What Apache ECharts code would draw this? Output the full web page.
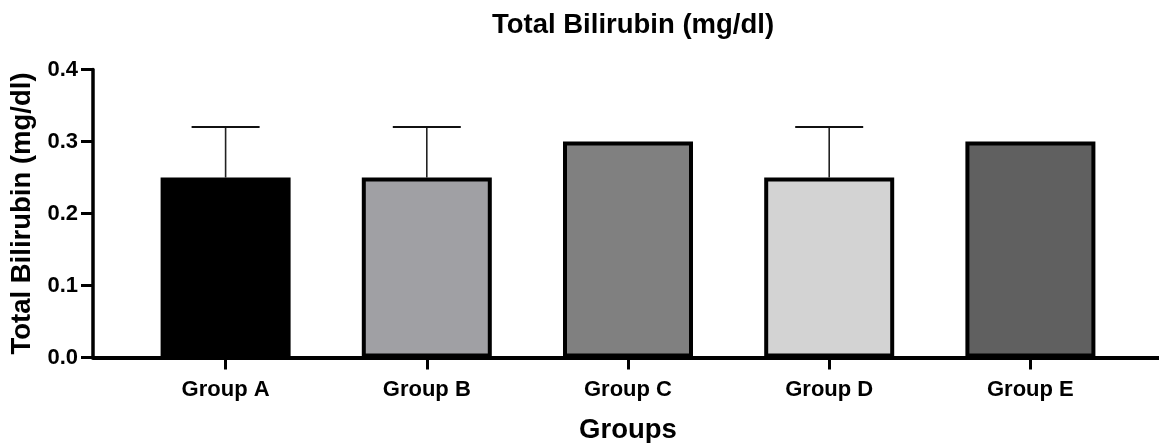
<!DOCTYPE html>
<html>
<head>
<meta charset="utf-8">
<script src="https://cdn.jsdelivr.net/npm/echarts@6/dist/echarts.min.js"></script>
<style>
  html, body { margin: 0; padding: 0; background: #fff; }
  #chart { width: 1159px; height: 443px; }
</style>
</head>
<body>
<div id="chart"></div>
<script>
const categories = ['Group A', 'Group B', 'Group C', 'Group D', 'Group E'];
const means = [0.25, 0.25, 0.30, 0.25, 0.30];
const errors = [0.07, 0.07, 0, 0.07, 0];
const barColors = ['#000000', '#a0a0a4', '#808080', '#d3d3d3', '#606060'];
const yTicks = [0, 0.1, 0.2, 0.3, 0.4];

const FONT = '"Liberation Sans", Arial, sans-serif';
const chart = echarts.init(document.getElementById('chart'), null, { renderer: 'canvas' });

const option = {
  backgroundColor: '#ffffff',
  animation: false,
  title: {
    text: 'Total Bilirubin (mg/dl)',
    left: 628,
    top: 6,
    textAlign: 'center',
    textStyle: { fontFamily: FONT, fontWeight: 'bold', fontSize: 27.5, color: '#000' }
  },
  grid: [
    { left: 93, right: 0, top: 69.5, bottom: 85.5, containLabel: false, outerBoundsMode: 'none' },
    { left: 125, right: 28, top: 69.5, bottom: 85.5, containLabel: false, outerBoundsMode: 'none' }
  ],
  xAxis: [
    {
      gridIndex: 0,
      type: 'category',
      data: [''],
      z: 5,
      axisLine: { show: true, lineStyle: { color: '#000', width: 4 } },
      axisTick: { show: false },
      axisLabel: { show: false },
      splitLine: { show: false }
    },
    {
      gridIndex: 1,
      type: 'category',
      data: categories,
      axisLine: { show: false },
      axisTick: { show: true, alignWithLabel: true, length: 12, lineStyle: { color: '#000', width: 3 } },
      axisLabel: { show: true, margin: 21, fontFamily: FONT, fontWeight: 'bold', fontSize: 22, color: '#000' },
      name: 'Groups',
      nameLocation: 'middle',
      nameGap: 59,
      nameTextStyle: { fontFamily: FONT, fontWeight: 'bold', fontSize: 27.5, color: '#000' },
      splitLine: { show: false }
    }
  ],
  yAxis: [
    {
      gridIndex: 0,
      type: 'value',
      min: yTicks[0],
      max: yTicks[yTicks.length - 1],
      interval: 0.1,
      z: 5,
      axisLine: { show: true, lineStyle: { color: '#000', width: 3.5 } },
      axisTick: { show: true, length: 12, lineStyle: { color: '#000', width: 3 } },
      axisLabel: {
        margin: 15, fontFamily: FONT, fontWeight: 'bold', fontSize: 22, color: '#000',
        formatter: v => v.toFixed(1)
      },
      splitLine: { show: false },
      name: 'Total Bilirubin (mg/dl)',
      nameLocation: 'middle',
      nameGap: 57,
      nameTextStyle: { fontFamily: FONT, fontWeight: 'bold', fontSize: 27.5, color: '#000' }
    },
    {
      gridIndex: 1,
      type: 'value',
      min: yTicks[0],
      max: yTicks[yTicks.length - 1],
      interval: 0.1,
      show: false
    }
  ],
  series: [
    {
      type: 'bar',
      xAxisIndex: 1,
      yAxisIndex: 1,
      barWidth: 130,
      z: 2,
      data: means.map((v, i) => ({
        value: v,
        itemStyle: { color: barColors[i], borderColor: '#000', borderWidth: 4 }
      }))
    },
    {
      type: 'custom',
      xAxisIndex: 1,
      yAxisIndex: 1,
      z: 1,
      data: means.map((v, i) => [i, v, v + errors[i], errors[i]]),
      renderItem: function (params, api) {
        if (api.value(3) <= 0) return null;
        const base = api.coord([api.value(0), api.value(1)]);
        const top = api.coord([api.value(0), api.value(2)]);
        const halfCap = 34;
        return {
          type: 'group',
          children: [
            { type: 'line', shape: { x1: base[0], y1: base[1], x2: top[0], y2: top[1] },
              style: { stroke: '#222', lineWidth: 1.6 } },
            { type: 'line', shape: { x1: top[0] - halfCap, y1: top[1], x2: top[0] + halfCap, y2: top[1] },
              style: { stroke: '#111', lineWidth: 2 } }
          ]
        };
      }
    }
  ]
};
chart.setOption(option);
</script>
</body>
</html>
